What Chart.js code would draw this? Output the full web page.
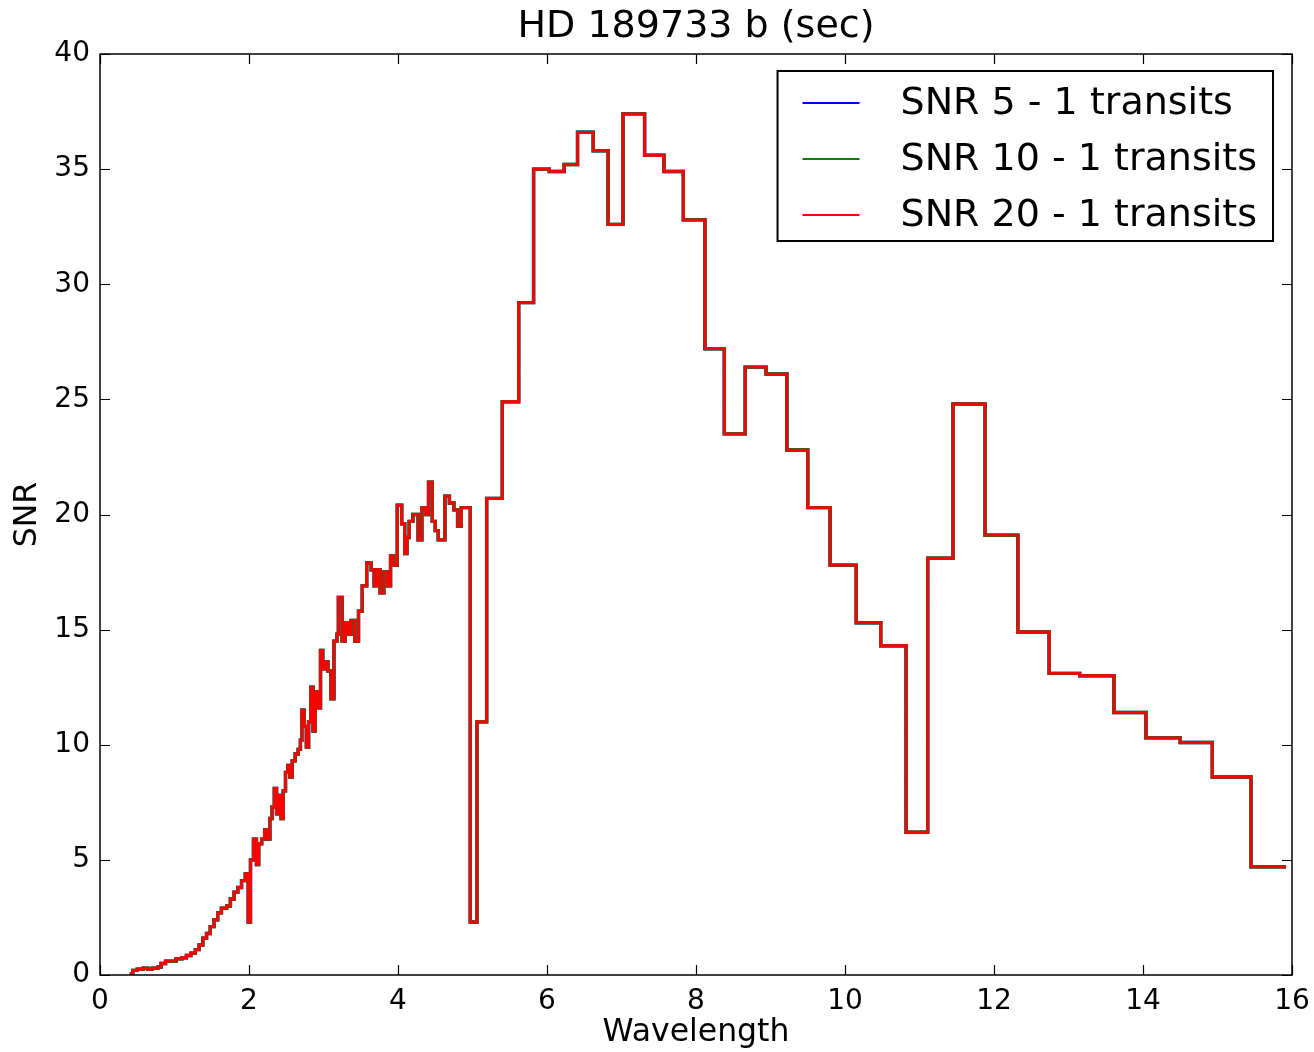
<!DOCTYPE html>
<html><head><meta charset="utf-8">
<script src="https://cdn.jsdelivr.net/npm/chart.js@4.4.0/dist/chart.umd.min.js"></script>
<style>html,body{margin:0;padding:0;background:#fff;} canvas{display:block;}</style>
</head><body>
<canvas id="c" width="1314" height="1052"></canvas>
<script>
// ---- data ----
const titleText = 'HD 189733 b (sec)';
const xLabel = 'Wavelength';
const yLabel = 'SNR';
const xTicks = [0, 2, 4, 6, 8, 10, 12, 14, 16];
const yTicks = [0, 5, 10, 15, 20, 25, 30, 35, 40];
const seriesLabels = ['SNR 5 - 1 transits', 'SNR 10 - 1 transits', 'SNR 20 - 1 transits'];
const seriesColors = ['#0000ff', '#008000', '#ff0000'];

// wavelength at the start of each step
const wavelengthStart = [
 0.40,0.44,0.50,0.58,0.64,0.70,0.78,0.82,0.88,0.96,1.02,1.10,1.16,1.22,1.28,1.33,1.38,1.43,1.48,1.53,
 1.58,1.63,1.70,1.75,1.80,1.85,1.90,1.95,1.99,2.02,2.06,2.10,2.13,2.17,2.21,2.25,2.28,2.31,2.34,2.37,
 2.40,2.43,2.46,2.49,2.52,2.55,2.58,2.62,2.66,2.69,2.71,2.74,2.77,2.80,2.83,2.86,2.89,2.92,2.96,2.99,
 3.02,3.06,3.10,3.14,3.18,3.20,3.25,3.29,3.33,3.37,3.42,3.47,3.52,3.58,3.64,3.68,3.72,3.76,3.81,3.86,
 3.90,3.94,3.99,4.05,4.09,4.12,4.15,4.20,4.27,4.32,4.37,4.41,4.46,4.50,4.54,4.63,4.69,4.75,4.80,4.85,
 4.97,5.06,5.19,5.40,5.62,5.82,6.03,6.23,6.41,6.62,6.82,7.02,7.31,7.57,7.83,8.12,8.38,8.66,8.94,9.22,
 9.50,9.80,10.15,10.48,10.82,11.11,11.45,11.88,12.32,12.74,13.15,13.61,14.04,14.50,14.93,15.45
];
const wavelengthEnd = 15.92;

const snr20 = [
 0.05,0.2,0.25,0.3,0.25,0.3,0.35,0.5,0.6,0.6,0.7,0.75,0.85,0.95,1.1,1.3,1.6,1.8,2.1,2.4,
 2.7,2.9,3.0,3.3,3.6,3.8,4.1,4.4,2.3,5.0,5.9,4.8,5.7,5.9,6.3,5.9,6.8,7.3,8.1,7.0,
 7.8,6.8,8.0,8.8,9.1,8.6,9.3,9.6,9.8,10.2,11.5,10.8,9.9,11.0,12.5,10.6,12.3,11.6,14.1,13.3,
 13.6,13.2,12.0,14.5,14.8,16.4,14.5,15.3,14.8,15.4,14.5,15.8,16.9,17.9,17.6,16.9,17.6,16.6,17.5,16.9,
 18.2,17.8,20.4,19.6,18.3,19.0,19.7,20.0,18.9,20.3,20.0,21.4,19.7,19.3,18.9,20.8,20.5,20.2,19.5,20.3,
 2.3,11.0,20.7,24.9,29.2,35.0,34.9,35.2,36.6,35.8,32.6,37.4,35.6,34.9,32.8,27.2,23.5,26.4,26.1,22.8,
 20.3,17.8,15.3,14.3,6.2,18.1,24.8,19.1,14.9,13.1,13.0,11.4,10.3,10.1,8.6,4.7
];
const snr10 = snr20.slice();
const snr5 = snr20.slice();

// ---- build ----
function toSteps(vals) {
  const pts = wavelengthStart.map((x, i) => ({x: x, y: vals[i]}));
  pts.push({x: wavelengthEnd, y: vals[vals.length - 1]});
  return pts;
}
const FONT = "'DejaVu Sans', 'Bitstream Vera Sans', sans-serif";
const seriesValues = [snr5, snr10, snr20];

const decor = {
  id: 'decor',
  afterDraw(chart) {
    const ctx = chart.ctx, a = chart.chartArea;
    const xs = chart.scales.x, ys = chart.scales.y;
    ctx.save();
    // frame
    ctx.strokeStyle = '#000'; ctx.lineWidth = 1.5;
    ctx.strokeRect(a.left, a.top, a.right - a.left, a.bottom - a.top);
    // inward ticks
    const tl = 10;
    ctx.lineWidth = 1.2;
    ctx.beginPath();
    xTicks.forEach(v => {
      const p = Math.round(xs.getPixelForValue(v)) + 0.5;
      ctx.moveTo(p, a.bottom); ctx.lineTo(p, a.bottom - tl);
      ctx.moveTo(p, a.top); ctx.lineTo(p, a.top + tl);
    });
    yTicks.forEach(v => {
      const p = Math.round(ys.getPixelForValue(v)) + 0.5;
      ctx.moveTo(a.left, p); ctx.lineTo(a.left + tl, p);
      ctx.moveTo(a.right, p); ctx.lineTo(a.right - tl, p);
    });
    ctx.stroke();
    // title & axis labels
    ctx.fillStyle = '#000';
    ctx.textAlign = 'center'; ctx.textBaseline = 'middle';
    ctx.font = '38px ' + FONT;
    ctx.fillText(titleText, (a.left + a.right) / 2, 27);
    ctx.font = '31.5px ' + FONT;
    ctx.fillText(xLabel, (a.left + a.right) / 2, 1033);
    ctx.save();
    ctx.translate(28, (a.top + a.bottom) / 2);
    ctx.rotate(-Math.PI / 2);
    ctx.fillText(yLabel, 0, 0);
    ctx.restore();
    // legend
    ctx.font = '38px ' + FONT;
    let maxW = 0;
    seriesLabels.forEach(s => { maxW = Math.max(maxW, ctx.measureText(s).width); });
    const bRight = a.right - 19, bTop = a.top + 17;
    const bLeft = bRight - (maxW + 123 + 16);
    const bBottom = bTop + 170;
    ctx.fillStyle = '#fff';
    ctx.fillRect(bLeft, bTop, bRight - bLeft, bBottom - bTop);
    ctx.strokeStyle = '#000'; ctx.lineWidth = 2;
    ctx.strokeRect(bLeft, bTop, bRight - bLeft, bBottom - bTop);
    ctx.textAlign = 'left';
    seriesLabels.forEach((s, i) => {
      const y = bTop + 32 + i * 56;
      ctx.strokeStyle = seriesColors[i]; ctx.lineWidth = 2;
      ctx.beginPath(); ctx.moveTo(bLeft + 25, y); ctx.lineTo(bLeft + 82, y); ctx.stroke();
      ctx.fillStyle = '#000';
      ctx.fillText(s, bLeft + 123, y + 1);
    });
    ctx.restore();
  }
};

new Chart(document.getElementById('c'), {
  type: 'line',
  data: {
    datasets: seriesLabels.map((lab, i) => ({
      label: lab,
      data: toSteps(seriesValues[i]),
      borderColor: seriesColors[i],
      backgroundColor: seriesColors[i],
      borderWidth: i === 2 ? 2.8 : 3.4,
      pointRadius: 0,
      stepped: true,
      fill: false,
      order: 3 - i
    }))
  },
  options: {
    responsive: false,
    animation: false,
    events: [],
    layout: {padding: {left: 0, right: 22, top: 54, bottom: 0}},
    plugins: {legend: {display: false}, title: {display: false}, tooltip: {enabled: false}},
    scales: {
      x: {
        type: 'linear', min: 0, max: 16,
        afterBuildTicks: s => { s.ticks = xTicks.map(v => ({value: v})); },
        afterFit: s => { s.height = 77; },
        grid: {display: false}, border: {display: false},
        ticks: {font: {family: FONT, size: 28}, color: '#000', padding: 2, maxRotation: 0, autoSkip: false}
      },
      y: {
        type: 'linear', min: 0, max: 40,
        afterBuildTicks: s => { s.ticks = yTicks.map(v => ({value: v})); },
        afterFit: s => { s.width = 100; },
        grid: {display: false}, border: {display: false},
        ticks: {font: {family: FONT, size: 28}, color: '#000', padding: 2, autoSkip: false}
      }
    }
  },
  plugins: [decor]
});
</script>
</body></html>
